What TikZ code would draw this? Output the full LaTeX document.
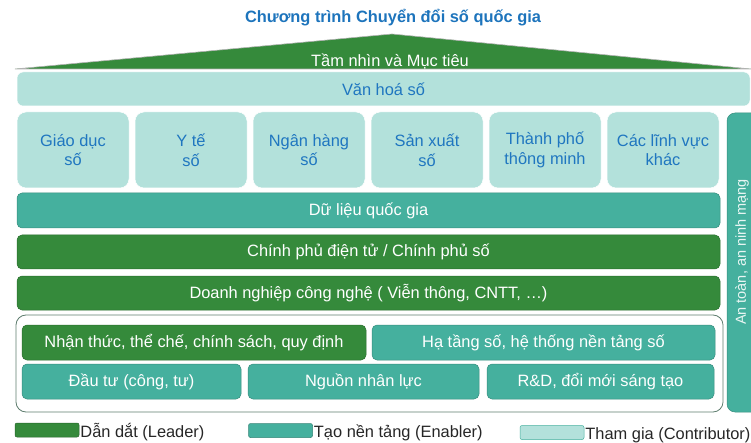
\documentclass[tikz,border=0pt]{standalone}
\usepackage{fontspec}
\setmainfont{Liberation Sans}
\usepackage{xcolor}
\usetikzlibrary{positioning}
\definecolor{LeaderGreen}{HTML}{358A3B}
\definecolor{EnablerTeal}{HTML}{45B09E}
\definecolor{ContribLight}{HTML}{B3E1DB}
\definecolor{LabelBlue}{HTML}{1F76C0}
\definecolor{TitleBlue}{HTML}{1D74BC}
\definecolor{GroupGray}{HTML}{5E7D6E}
\newcommand{\pillarfont}{\fontsize{16.4}{19.7}\selectfont}
\tikzset{
    box/.style={
        draw=#1!80!black,
        fill=#1,
        line width=0.5pt,
        rounded corners=5pt,
        text=white,
        font=\pillarfont,
        align=center,
        inner sep=0pt
    },
    box/.default=LeaderGreen,
    lightbox/.style={
        draw=white,
        fill=ContribLight,
        line width=0.5pt,
        rounded corners=9pt,
        text=LabelBlue,
        font=\pillarfont,
        align=center,
        inner sep=0pt
    },
    groupbox/.style={
        draw=GroupGray,
        fill=white,
        line width=0.8pt,
        rounded corners=10pt,
        inner sep=0pt
    },
    swatch/.style={
        draw=#1!75!black,
        fill=#1,
        line width=0.5pt,
        rounded corners=2pt,
        minimum width=64pt,
        minimum height=14pt,
        inner sep=0pt
    },
    legendtext/.style={
        font=\pillarfont,
        text=black!85,
        inner sep=0pt
    }
}

\begin{document}
\begin{tikzpicture}[x=1pt, y=-1pt]
        \useasboundingbox (0,0) rectangle (751,443);

        % Title
        \node[font=\pillarfont\bfseries, text=TitleBlue] (title) at (393,18) {Chương trình Chuyển đổi số quốc gia};

        % Vision roof
        \filldraw[fill=LeaderGreen, draw=gray!60, line width=0.6pt] (15,69) -- (392,34) -- (751,69) -- cycle;
        \node[font=\pillarfont, text=white] (vision) at (390,61) {Tầm nhìn và Mục tiêu};

        % Culture
        \node[lightbox, rounded corners=6pt, minimum width=733pt, minimum height=34pt] (culture) at (383.5,89) {Văn hoá số};

        % Sectors
        \node[lightbox, minimum width=112pt, minimum height=76pt] (edu) at (73,150) {Giáo dục\\số};
        \node[lightbox, minimum width=112pt, minimum height=76pt] (health) at (191,150) {Y tế\\số};
        \node[lightbox, minimum width=112pt, minimum height=76pt] (bank) at (309,150) {Ngân hàng\\số};
        \node[lightbox, minimum width=112pt, minimum height=76pt] (manu) at (427,150) {Sản xuất\\số};
        \node[lightbox, minimum width=112pt, minimum height=76pt] (city) at (545,150) {Thành phố\\thông minh};
        \node[lightbox, minimum width=112pt, minimum height=76pt] (other) at (663,150) {Các lĩnh vực\\khác};

        % Layers
        \node[box=EnablerTeal, minimum width=703pt, minimum height=35pt] (data) at (368.5,210.5) {Dữ liệu quốc gia};
        \node[box, minimum width=703pt, minimum height=34pt] (egov) at (368.5,252) {Chính phủ điện tử / Chính phủ số};
        \node[box, minimum width=703pt, minimum height=34pt] (firms) at (368.5,293) {Doanh nghiệp công nghệ ( Viễn thông, CNTT, …)};

        % Foundations
        \node[groupbox, minimum width=707pt, minimum height=97pt] (base) at (369.5,363.5) {};
        \node[box, minimum width=344pt, minimum height=35pt] (policy) at (194,342.5) {Nhận thức, thể chế, chính sách, quy định};
        \node[box=EnablerTeal, minimum width=343pt, minimum height=35pt] (infra) at (543.5,342.5) {Hạ tầng số, hệ thống nền tảng số};
        \node[box=EnablerTeal, minimum width=219pt, minimum height=35pt] (invest) at (131.5,381.5) {Đầu tư (công, tư)};
        \node[box=EnablerTeal, minimum width=231pt, minimum height=35pt] (people) at (363.5,381.5) {Nguồn nhân lực};
        \node[box=EnablerTeal, minimum width=227pt, minimum height=35pt] (rnd) at (600.5,381.5) {R\&D, đổi mới sáng tạo};

        % Security column
        \node[box=EnablerTeal, rotate=90, rounded corners=8pt, minimum width=299pt, minimum height=38pt] (security) at (746,262.5) {};
        \node[rotate=90, font=\fontsize{14.5}{17}\selectfont, text=white!88!EnablerTeal, inner sep=0pt] (securitytxt) at (742,252) {An toàn, an ninh mạng};

        % Legend
        \node[swatch=LeaderGreen] (leader) at (47,430) {};
        \node[legendtext, right=1pt of leader, yshift=-2pt] (leadertxt) {Dẫn dắt (Leader)};
        \node[swatch=EnablerTeal] (enabler) at (280.5,430.5) {};
        \node[legendtext, right=1pt of enabler, yshift=-2pt] (enablertxt) {Tạo nền tảng (Enabler)};
        \node[swatch=ContribLight, draw=EnablerTeal] (contrib) at (552,432.5) {};
        \node[legendtext, right=1pt of contrib, yshift=-3pt] (contribtxt) {Tham gia (Contributor)};
\end{tikzpicture}
\end{document}
